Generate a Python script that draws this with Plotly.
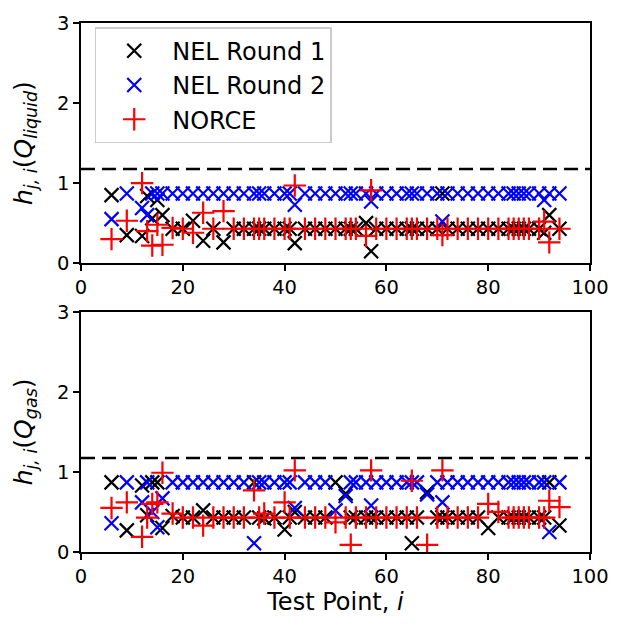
import plotly.graph_objects as go
from plotly.subplots import make_subplots

test_points = [6, 9, 12, 13, 14, 15, 16, 18, 20, 22, 24, 26, 28, 30, 32, 34, 35, 36, 38, 40,
               41, 42, 44, 46, 48, 50, 52, 53, 54, 56, 57, 58, 60, 62, 64, 65, 66, 68, 70, 71,
               72, 74, 76, 78, 80, 82, 84, 85, 86, 87, 88, 90, 91, 92, 94]

# Q_liquid
nel1_liq = [0.85, 0.35, 0.34, 0.84, 0.56, 0.79, 0.60, 0.43, 0.43, 0.53, 0.28, 0.43, 0.26, 0.43, 0.43, 0.43, 0.43, 0.43, 0.43, 0.43,
            0.43, 0.25, 0.43, 0.43, 0.43, 0.43, 0.43, 0.43, 0.43, 0.50, 0.15, 0.43, 0.43, 0.43, 0.43, 0.43, 0.43, 0.43, 0.43, 0.87,
            0.43, 0.43, 0.43, 0.43, 0.43, 0.43, 0.43, 0.43, 0.43, 0.43, 0.43, 0.43, 0.38, 0.60, 0.43]
nel2_liq = [0.55, 0.87, 0.69, 0.60, 0.87, 0.87, 0.87, 0.87, 0.87, 0.87, 0.87, 0.87, 0.87, 0.87, 0.87, 0.87, 0.87, 0.87, 0.87, 0.87,
            0.87, 0.73, 0.87, 0.87, 0.87, 0.87, 0.87, 0.87, 0.87, 0.87, 0.77, 0.87, 0.87, 0.87, 0.87, 0.87, 0.87, 0.87, 0.87, 0.52,
            0.87, 0.87, 0.87, 0.87, 0.87, 0.87, 0.87, 0.87, 0.87, 0.87, 0.87, 0.87, 0.79, 0.87, 0.87]
norce_liq = [0.30, 0.53, 1.00, 0.40, 0.22, 0.48, 0.23, 0.44, 0.43, 0.38, 0.63, 0.43, 0.65, 0.43, 0.43, 0.43, 0.43, 0.43, 0.43, 0.43,
             0.43, 0.97, 0.43, 0.43, 0.43, 0.43, 0.43, 0.43, 0.43, 0.34, 0.91, 0.43, 0.43, 0.43, 0.43, 0.43, 0.43, 0.43, 0.43, 0.35,
             0.43, 0.43, 0.43, 0.43, 0.43, 0.43, 0.43, 0.43, 0.43, 0.43, 0.43, 0.43, 0.52, 0.26, 0.43]

# Q_gas
nel1_gas = [0.87, 0.27, 0.83, 0.46, 0.87, 0.87, 0.30, 0.45, 0.43, 0.43, 0.52, 0.43, 0.43, 0.43, 0.43, 0.87, 0.43, 0.42, 0.43, 0.28,
            0.43, 0.50, 0.43, 0.43, 0.43, 0.87, 0.73, 0.43, 0.43, 0.43, 0.43, 0.43, 0.43, 0.43, 0.43, 0.11, 0.43, 0.75, 0.43, 0.43,
            0.43, 0.43, 0.43, 0.43, 0.30, 0.43, 0.43, 0.43, 0.43, 0.43, 0.43, 0.43, 0.43, 0.87, 0.33]
nel2_gas = [0.36, 0.87, 0.62, 0.87, 0.50, 0.31, 0.67, 0.87, 0.87, 0.87, 0.87, 0.87, 0.87, 0.87, 0.87, 0.11, 0.87, 0.87, 0.87, 0.87,
            0.87, 0.55, 0.87, 0.87, 0.87, 0.52, 0.70, 0.87, 0.87, 0.87, 0.58, 0.87, 0.87, 0.87, 0.87, 0.87, 0.87, 0.72, 0.87, 0.62,
            0.87, 0.87, 0.87, 0.87, 0.87, 0.87, 0.87, 0.87, 0.87, 0.87, 0.87, 0.87, 0.87, 0.25, 0.87]
norce_gas = [0.55, 0.62, 0.19, 0.43, 0.60, 0.62, 0.99, 0.48, 0.43, 0.43, 0.33, 0.43, 0.43, 0.43, 0.43, 0.77, 0.43, 0.48, 0.43, 0.62,
             0.43, 1.02, 0.43, 0.43, 0.43, 0.37, 0.43, 0.09, 0.43, 0.43, 1.02, 0.43, 0.43, 0.43, 0.43, 0.89, 0.43, 0.09, 0.43, 1.02,
             0.43, 0.43, 0.43, 0.43, 0.60, 0.50, 0.43, 0.43, 0.43, 0.43, 0.43, 0.43, 0.43, 0.64, 0.56]

threshold = 1.175
x_ticks = [0, 20, 40, 60, 80, 100]
y_ticks = [0, 1, 2, 3]

series = [
    ("NEL Round 1", "black", "x-thin", nel1_liq, nel1_gas),
    ("NEL Round 2", "blue", "x-thin", nel2_liq, nel2_gas),
    ("NORCE", "red", "cross-thin", norce_liq, norce_gas),
]

FONT = "DejaVu Sans"

fig = make_subplots(rows=2, cols=1, vertical_spacing=0.092)

for name, color, sym, liq, gas in series:
    for row, vals in ((1, liq), (2, gas)):
        fig.add_trace(go.Scatter(
            x=test_points, y=vals, mode="markers", name=name,
            legendgroup=name, showlegend=(row == 1),
            marker=dict(symbol=sym, size=14 if sym == "x-thin" else 16,
                        line=dict(color=color, width=2.2), color=color),
        ), row=row, col=1)

for row in (1, 2):
    fig.add_hline(y=threshold, line=dict(color="black", width=2.5, dash="14px,7px"), row=row, col=1)

axis_common = dict(
    showgrid=False, zeroline=False, showline=True, linecolor="black", linewidth=1.5,
    mirror=True, ticks="outside", ticklen=6, tickwidth=1.5, tickcolor="black",
    tickfont=dict(family=FONT, size=19.5, color="black"),
)
for row in (1, 2):
    fig.update_xaxes(range=[0, 100], tickvals=x_ticks, **axis_common, row=row, col=1)
    fig.update_yaxes(range=[0, 3], tickvals=y_ticks, **axis_common, row=row, col=1)

fig.update_xaxes(title=dict(text="Test Point, <i>i</i>", font=dict(family=FONT, size=24, color="black"), standoff=6),
                 row=2, col=1)
YFONT = dict(family=FONT, size=25, color="black")
fig.update_yaxes(title=dict(text="<i>h</i><sub><i>j, i</i></sub>(<i>Q</i><sub><i>liquid</i></sub>)",
                            font=YFONT, standoff=17), row=1, col=1)
fig.update_yaxes(title=dict(text="<i>h</i><sub><i>j, i</i></sub>(<i>Q</i><sub><i>gas</i></sub>)",
                            font=YFONT, standoff=17), row=2, col=1)

fig.update_layout(
    width=621, height=626,
    margin=dict(l=81, r=24, t=17, b=74),
    paper_bgcolor="white", plot_bgcolor="white",
    font=dict(family=FONT, size=19, color="black"),
    legend=dict(x=0.027, y=0.992, xanchor="left", yanchor="top",
                bgcolor="rgba(255,255,255,0.8)", bordercolor="#cccccc", borderwidth=1.5,
                font=dict(family=FONT, size=24, color="black"), itemwidth=66,
                tracegroupgap=0),
)

fig.write_html("out.html")
